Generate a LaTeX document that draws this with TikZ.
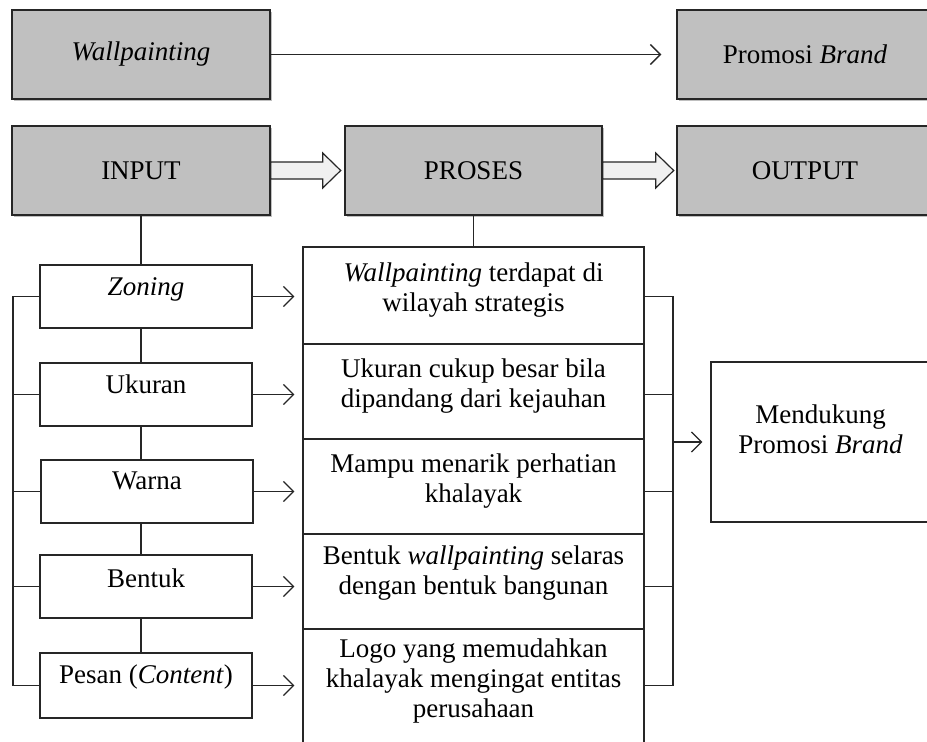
\documentclass[tikz,border=0pt]{standalone}
\usepackage{fontspec}
\setmainfont{Liberation Serif}
\usetikzlibrary{arrows.meta,calc,shadows}
\definecolor{boxgray}{RGB}{192,192,192}
\definecolor{blkfill}{RGB}{240,240,240}
\begin{document}
\begin{tikzpicture}[x=1pt,y=-1pt,
  every node/.style={font=\fontsize{27}{30}\selectfont},
  graybox/.style={draw=black!85, line width=1.4pt, fill=boxgray, inner sep=0pt,
    drop shadow={shadow xshift=2pt, shadow yshift=-2pt, opacity=0.25, fill=black}},
  whitebox/.style={draw=black!85, line width=1.3pt, fill=white, inner sep=0pt},
  txt/.style={inner sep=0pt, align=center},
  conn/.style={line width=1.3pt, draw=black!85},
  arr/.style={conn, -{Straight Barb[length=10pt,width=20pt,line width=1.3pt]}},
  blk/.style={line width=1.2pt, draw=black!85, fill=blkfill, line join=miter}
]
\useasboundingbox[fill=white] (0,0) rectangle (927,742);

% top row
\node[graybox, minimum width=258pt, minimum height=89pt] (wp) at (141,54.5) {\textit{Wallpainting}};
\node[graybox, minimum width=256pt, minimum height=89pt] (pb) at (805,54.5) {Promosi \textit{Brand}};
\draw[arr] (wp.east) -- ([xshift=-15pt]pb.west);

% second row
\node[graybox, minimum width=258pt, minimum height=89pt] (inp) at (141,170.5) {INPUT};
\node[graybox, minimum width=257pt, minimum height=89pt] (pro) at (473.5,170.5) {PROSES};
\node[graybox, minimum width=256pt, minimum height=89pt] (out) at (805,170.5) {OUTPUT};

\draw[blk] (inp.east) ++(0,-8.5) -- ++(52,0) -- ++(0,-9) -- ++(18,17.5) -- ++(-18,17.5) -- ++(0,-9) -- ++(-52,0) -- cycle;
\draw[blk] (pro.east) ++(0,-8.5) -- ++(53,0) -- ++(0,-9) -- ++(18,17.5) -- ++(-18,17.5) -- ++(0,-9) -- ++(-53,0) -- cycle;

% input column
\node[whitebox, minimum width=212pt, minimum height=63pt] (zon) at (146,296.5) {};
\node[whitebox, minimum width=212pt, minimum height=63pt] (uku) at (146,394.5) {};
\node[whitebox, minimum width=212pt, minimum height=63pt] (war) at (147,491.5) {};
\node[whitebox, minimum width=212pt, minimum height=63pt] (ben) at (146,586.5) {};
\node[whitebox, minimum width=212pt, minimum height=65pt] (pes) at (146,685.5) {};

\node[txt, anchor=base] (tzon) at (146,295) {\textit{Zoning}};
\node[txt, anchor=base] (tuku) at (146,393) {Ukuran};
\node[txt, anchor=base] (twar) at (147,489) {Warna};
\node[txt, anchor=base] (tben) at (146,587) {Bentuk};
\node[txt, anchor=base] (tpes) at (146,683) {Pesan (\textit{Content})};

\draw[conn] (inp.south) -- (inp.south |- zon.north);
\draw[conn] (inp.south |- zon.south) -- (inp.south |- uku.north);
\draw[conn] (inp.south |- uku.south) -- (inp.south |- war.north);
\draw[conn] (inp.south |- war.south) -- (inp.south |- ben.north);
\draw[conn] (inp.south |- ben.south) -- (inp.south |- pes.north);

\coordinate (lbx) at (13,0);
\draw[conn] (zon.west) -- (zon.west -| lbx) -- (pes.west -| lbx) -- (pes.west);
\draw[conn] (uku.west) -- (uku.west -| lbx);
\draw[conn] (war.west) -- (war.west -| lbx);
\draw[conn] (ben.west) -- (ben.west -| lbx);

% proses column
\node[whitebox, minimum width=341pt, minimum height=97pt] (p1) at (473.5,295.5) {};
\node[whitebox, minimum width=341pt, minimum height=95pt] (p2) at (473.5,391.5) {};
\node[whitebox, minimum width=341pt, minimum height=95pt] (p3) at (473.5,486.5) {};
\node[whitebox, minimum width=341pt, minimum height=95pt] (p4) at (473.5,581.5) {};
\node[whitebox, minimum width=341pt, minimum height=125pt] (p5) at (473.5,691.5) {};

\node[txt, anchor=north] (tp1) at (473.5,263) {\textit{Wallpainting} terdapat di\\ wilayah strategis};
\node[txt, anchor=north] (tp2) at (473.5,359) {Ukuran cukup besar bila\\ dipandang dari kejauhan};
\node[txt, anchor=north] (tp3) at (473.5,454) {Mampu menarik perhatian\\ khalayak};
\node[txt, anchor=north] (tp4) at (473.5,546) {Bentuk \textit{wallpainting} selaras\\ dengan bentuk bangunan};
\node[txt, anchor=north] (tp5) at (473.5,639) {Logo yang memudahkan\\ khalayak mengingat entitas\\ perusahaan};

\draw[conn] (pro.south) -- (pro.south |- p1.north);

\draw[arr] (zon.east) -- ([xshift=-8pt]zon.east -| p1.west);
\draw[arr] (uku.east) -- ([xshift=-8pt]uku.east -| p1.west);
\draw[arr] (war.east) -- ([xshift=-8pt]war.east -| p1.west);
\draw[arr] (ben.east) -- ([xshift=-8pt]ben.east -| p1.west);
\draw[arr] (pes.east) -- ([xshift=-8pt]pes.east -| p1.west);

% output side
\node[whitebox, minimum width=219pt, minimum height=160pt] (men) at (820.5,442) {};
\node[txt, anchor=north] (tmen) at (820.5,405) {Mendukung\\ Promosi \textit{Brand}};

\coordinate (rbx) at (673,0);
\draw[conn] (p1.east |- zon.east) -- (rbx |- zon.east) -- (rbx |- pes.east) -- (p1.east |- pes.east);
\draw[conn] (p1.east |- uku.east) -- (rbx |- uku.east);
\draw[conn] (p1.east |- war.east) -- (rbx |- war.east);
\draw[conn] (p1.east |- ben.east) -- (rbx |- ben.east);
\draw[arr] (men.west -| rbx) -- ([xshift=-8pt]men.west);
\end{tikzpicture}
\end{document}
